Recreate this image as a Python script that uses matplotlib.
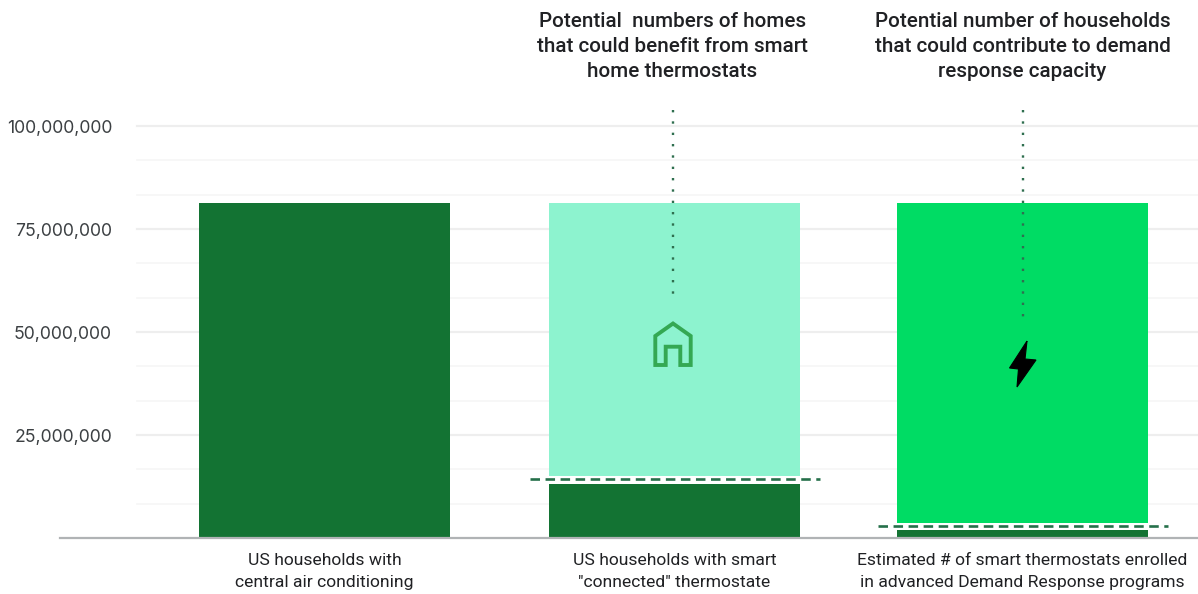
import matplotlib
matplotlib.use("Agg")
import matplotlib.pyplot as plt
from matplotlib.patches import PathPatch
from matplotlib.path import Path

# Household counts, in homes
categories = [
    "US households with\ncentral air conditioning",
    'US households with smart\n"connected" thermostate',
    "Estimated # of smart thermostats enrolled\nin advanced Demand Response programs",
]
bar_centres = [0, 1.003, 2]
total_households = [81_300_000, 81_300_000, 81_300_000]
current_adopters = [81_300_000, 13_200_000, 1_900_000]
potential_base = [None, 15_100_000, 3_700_000]
adoption_markers = [None, 14_300_000, 3_000_000]
major_ticks = [25_000_000, 50_000_000, 75_000_000, 100_000_000]
minor_ticks = [8_333_000, 16_667_000, 33_333_000, 41_667_000, 58_333_000,
               66_667_000, 83_333_000, 91_667_000]
tick_labels = ["25,000,000", "50,000,000", "75,000,000", "100,000,000"]
callouts = [
    "Potential  numbers of homes\nthat could benefit from smart\nhome thermostats",
    "Potential number of households\nthat could contribute to demand\nresponse capacity",
]

W, H = 1198, 594
DARK, MINT, BRIGHT = "#137333", "#8df3cf", "#00dc64"
INK = "#202124"

fig = plt.figure(figsize=(W / 100, H / 100), dpi=100)
ax = fig.add_axes([0, 0, 1, 1])

# One category step is 349 px and one million homes is 4.12 px
ax.set_xlim(-324.5 / 349, (W - 324.5) / 349)
ax.set_ylim((538 - H) / 4.12 * 1e6, 538 / 4.12 * 1e6)
ax.axis("off")


def fx(x):
    return x / W


def fy(y):
    return 1 - y / H


# Gridlines start right of the tick labels
grid_start = fx(137)
for v in minor_ticks:
    ax.axhline(v, xmin=grid_start, color="#f6f6f6", lw=1.2, zorder=1)
for v in major_ticks:
    ax.axhline(v, xmin=grid_start, color="#eeeeee", lw=1.6, zorder=1)
ax.axhline(0, xmin=fx(60), color="#b0b3b5", lw=1.6, zorder=4)

for v, label in zip(major_ticks, tick_labels):
    ax.annotate(label, xy=(fx(112), v), xycoords=("axes fraction", "data"),
                xytext=(0, -1.6), textcoords="offset points",
                ha="right", va="center", fontsize=12.7, color="#3c4043",
                family="Inter")

bar_width = 251 / 349
ax.bar(bar_centres, current_adopters, width=bar_width, color=DARK, zorder=3)
for x, base, top, colour in zip(bar_centres[1:], potential_base[1:],
                                total_households[1:], [MINT, BRIGHT]):
    ax.bar(x, top - base, bottom=base, width=bar_width, color=colour, zorder=3)

# Dashed markers run past both edges of the bar
for x, v in zip(bar_centres[1:], adoption_markers[1:]):
    ax.plot([x - 145 / 349, x + 145 / 349], [v, v], color="#25704a", lw=1.9,
            dashes=(3.6, 2.1), zorder=5)

for x, label in zip(bar_centres, categories):
    ax.annotate(label, xy=(x, 0), xytext=(0, -10.5),
                textcoords="offset points", ha="center", va="top",
                fontsize=12.6, color=INK, family="Roboto", linespacing=1.62)

# Callouts above the second and third bars, tied to the icons by dotted leaders
for cx, text, end in zip([672.5, 1022.5], callouts, [300, 318]):
    fig.text(fx(cx), fy(12), text, ha="center", va="top", fontsize=14.9,
             color=INK, family="Roboto", fontweight="medium", linespacing=1.4)
    fig.add_artist(plt.Line2D([fx(cx), fx(cx)], [fy(110), fy(end + 2)],
                              color="#2f6f4f", lw=1.7, dashes=(1, 3.8),
                              zorder=6))

# House icon outline
house = [(655.3, 336), (673, 323.5), (690.7, 336), (690.7, 365), (680.3, 365),
         (680.3, 346.7), (665.7, 346.7), (665.7, 365), (655.3, 365)]
fig.add_artist(PathPatch(
    Path([(fx(x), fy(y)) for x, y in house + house[:1]], closed=True),
    facecolor="none", edgecolor="#34a853", lw=2.8, joinstyle="miter",
    transform=fig.transFigure, zorder=7))

# Lightning bolt icon
bolt = [(1027, 341), (1009.5, 368), (1018.5, 369), (1017, 387), (1036, 360),
        (1025, 359), (1027, 341)]
fig.add_artist(PathPatch(
    Path([(fx(x), fy(y)) for x, y in bolt]),
    facecolor="black", edgecolor="black", lw=0.8,
    transform=fig.transFigure, zorder=7))

fig.savefig("out.png", dpi=100)
